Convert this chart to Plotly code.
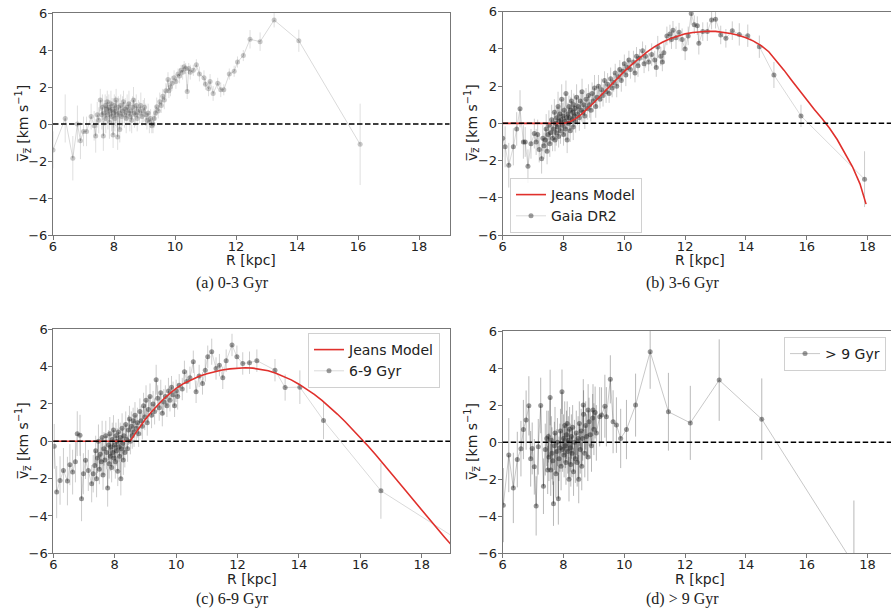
import plotly.graph_objects as go

# ---------------- (a) 0-3 Gyr ----------------
r_a = [6.0, 6.4, 6.65, 6.8, 6.9, 7.0, 7.1, 7.25, 7.35, 7.4, 7.45, 7.5, 7.55, 7.6, 7.62, 7.65,
       7.68, 7.71, 7.73, 7.76, 7.78, 7.8, 7.83, 7.85, 7.87, 7.9,
       7.92, 7.94, 7.97, 7.99, 8.01, 8.03, 8.05, 8.07, 8.1, 8.12,
       8.14, 8.17, 8.19, 8.22, 8.25, 8.28, 8.31, 8.34, 8.37, 8.4,
       8.43, 8.46, 8.49, 8.52, 8.55, 8.58, 8.61, 8.64, 8.67, 8.7,
       8.73, 8.76, 8.8, 8.84, 8.88, 8.92, 8.96, 9.0, 9.04, 9.08,
       9.12, 9.16, 9.2, 9.24, 9.28,
       9.32, 9.36, 9.4, 9.45, 9.5, 9.55, 9.6, 9.65, 9.7, 9.77,
       9.8, 9.85, 9.9, 9.97, 10.03, 10.1, 10.15, 10.2, 10.25, 10.3,
       10.35, 10.4, 10.45, 10.5, 10.6, 10.7, 10.8, 10.95, 11.0, 11.1,
       11.15, 11.25, 11.4, 11.5, 11.6, 11.78, 11.94, 12.05, 12.24, 12.46,
       12.79, 13.25, 14.06, 16.07]
v_a = [-1.4, 0.3, -1.85, 0.0, -0.9, -0.4, -0.4, 0.4, -0.1, -0.65, 0.5, 0.2, 1.3, 0.5, 0.9, -0.65,
       0.6, 1.0, 0.3, 0.8, 1.2, 0.5, 0.9, 0.1, 0.7, 1.1,
       0.4, 0.8, -0.6, 0.6, 1.0, 0.3, 0.7, 1.3, 0.5, -0.7,
       0.9, 0.6, -0.3, 1.0, 0.4, 0.7, 1.2, 0.5, 0.8, 0.3,
       0.9, 0.6, 1.1, 0.4, 0.7, 0.2, 0.9, 1.3, 0.6, 0.5,
       1.0, 0.3, 0.8, 0.6, 1.0, 0.4, 0.7, 0.9, 0.5, 0.2,
       0.6, 0.1, 0.3, -0.1, 0.0,
       0.3, 0.6, 0.93, 0.7, 1.2, 1.0, 1.5, 1.3, 1.8, 2.4,
       1.8, 2.0, 2.2, 2.5, 2.3, 2.7, 2.6, 2.9, 2.8, 3.1,
       3.0, 1.75, 3.0, 2.8, 2.9, 3.2, 2.7, 2.5, 2.15, 1.9,
       2.3, 1.65, 2.2, 1.85, 1.85, 2.7, 2.85, 3.35, 3.7, 4.58,
       4.45, 5.62, 4.5, -1.1]
e_a = [1.0, 1.3, 1.2, 1.0, 1.0, 0.8, 0.8, 0.7, 0.8, 0.9, 0.7, 0.7, 0.6, 0.8, 0.7, 0.8,
       0.7, 0.6, 0.8, 0.7, 0.6, 0.8, 0.7, 0.9, 0.6, 0.7,
       0.8, 0.6, 0.7, 0.8, 0.6, 0.7, 0.8, 0.6, 0.7, 0.7,
       0.6, 0.8, 0.7, 0.6, 0.7, 0.8, 0.6, 0.7, 0.6, 0.8,
       0.7, 0.6, 0.7, 0.8, 0.6, 0.7, 0.6, 0.7, 0.8, 0.6,
       0.6, 0.7, 0.5, 0.6, 0.7, 0.5, 0.6, 0.5, 0.6, 0.5,
       0.5, 0.6, 0.5, 0.4, 0.5,
       0.5, 0.4, 0.5, 0.4, 0.5, 0.4, 0.4, 0.5, 0.4, 0.4,
       0.4, 0.5, 0.4, 0.4, 0.4, 0.3, 0.4, 0.3, 0.4, 0.3,
       0.3, 0.4, 0.3, 0.4, 0.3, 0.3, 0.4, 0.4, 0.3, 0.4,
       0.4, 0.4, 0.3, 0.4, 0.3, 0.3, 0.3, 0.3, 0.3, 0.5,
       0.5, 0.4, 0.6, 2.2]

# ---------------- (b) 3-6 Gyr ----------------
r_b = [6.0, 6.08, 6.2, 6.35, 6.46, 6.57, 6.68, 6.74, 6.83, 6.93, 7.04, 7.1, 7.15, 7.2, 7.28, 7.32, 7.36,
       7.40, 7.43, 7.46, 7.49, 7.52, 7.55, 7.58, 7.61, 7.64, 7.67,
       7.70, 7.72, 7.74, 7.76, 7.78, 7.80, 7.82, 7.84, 7.86, 7.88,
       7.90, 7.92, 7.94, 7.96, 7.98, 8.00, 8.02, 8.04, 8.06, 8.08,
       8.10, 8.12, 8.14, 8.16, 8.18, 8.20, 8.22, 8.24, 8.26, 8.28,
       8.30, 8.32, 8.34, 8.36, 8.38, 8.40, 8.43, 8.46, 8.49, 8.52,
       8.55, 8.58, 8.61, 8.64, 8.67, 8.70, 8.74, 8.78, 8.82, 8.86,
       8.90, 8.94, 8.98, 9.02, 9.06, 9.10, 9.15, 9.20, 9.25, 9.30,
       9.35, 9.40, 9.45, 9.50, 9.55, 9.60,
       9.65, 9.7, 9.75, 9.8, 9.85, 9.9, 9.95, 10.0, 10.05, 10.1,
       10.15, 10.2, 10.3, 10.35, 10.4, 10.45, 10.5, 10.6, 10.65, 10.7,
       10.8, 10.9, 11.0, 11.05, 11.1, 11.2, 11.25, 11.3, 11.4, 11.5,
       11.55, 11.6, 11.7, 11.8, 11.9, 12.0, 12.1, 12.2, 12.3, 12.4,
       12.45, 12.58, 12.73, 12.87, 13.0, 13.17, 13.34, 13.55, 13.78, 14.06,
       14.44, 14.92, 15.81, 17.9]
v_b = [-0.8, -1.26, -2.25, -1.26, -0.3, 0.78, -1.0, -1.0, -2.3, -1.1, -0.55, -1.0, -0.6, -1.4, -1.9, -0.8, -1.2,
       -0.9, -0.3, -1.5, -0.6, -0.1, -1.1, -0.5, 0.2, -0.8, -0.3,
       0.6, -0.9, 0.0, -0.5, 0.3, -0.2, 0.9, -0.7, 0.1, 0.5,
       -0.4, 0.2, 1.3, -0.1, 0.4, -0.6, 0.7, 0.1, -0.3, 1.6,
       0.3, -0.9, 0.5, 0.0, 0.9, 0.3, -0.4, 0.7, 1.2, 0.2,
       0.6, -0.2, 1.0, 0.4, 0.8, 0.1, 1.4, 0.5, 0.9, 0.3,
       1.2, 0.7, 1.7, 0.6, 1.0, 0.4, 1.3, 0.8, 1.5, 1.0,
       0.7, 1.6, 1.2, 1.9, 0.9, 1.4, 2.0, 1.3, 1.8, 1.5,
       2.3, 1.7, 2.1, 1.6, 2.4, 1.9,
       2.2, 2.7, 2.0, 2.5, 2.9, 2.3, 2.8, 3.2, 2.6, 3.0,
       3.4, 2.9, 3.3, 2.7, 3.6, 3.1, 3.5, 3.9, 3.2, 3.6,
       3.3, 3.7, 3.4, 3.0, 4.1, 3.6, 3.3, 3.8, 4.7, 4.8,
       4.5, 5.0, 4.6, 4.9, 4.5, 4.0, 4.7, 5.9, 5.3, 5.25,
       4.3, 4.93, 4.93, 5.55, 5.6, 4.75, 4.57, 4.98, 4.78, 4.71,
       4.12, 2.6, 0.4, -3.0]
e_b = [1.0, 1.1, 1.2, 1.0, 0.9, 1.0, 0.9, 0.8, 0.9, 0.8, 0.8, 0.7, 0.8, 0.7, 0.8, 0.7, 0.7,
       0.7, 0.8, 0.7, 0.6, 0.8, 0.7, 0.6, 0.8, 0.7, 0.6,
       0.7, 0.6, 0.8, 0.7, 0.6, 0.7, 0.8, 0.6, 0.7, 0.6,
       0.7, 0.6, 0.8, 0.6, 0.7, 0.6, 0.7, 0.8, 0.6, 0.7,
       0.6, 0.7, 0.6, 0.8, 0.6, 0.7, 0.6, 0.7, 0.6, 0.7,
       0.6, 0.7, 0.6, 0.6, 0.7, 0.6, 0.7, 0.6, 0.6, 0.7,
       0.6, 0.6, 0.7, 0.6, 0.6, 0.7, 0.6, 0.6, 0.6, 0.7,
       0.6, 0.6, 0.6, 0.7, 0.6, 0.6, 0.6, 0.5, 0.6, 0.6,
       0.5, 0.6, 0.6, 0.5, 0.6, 0.5,
       0.5, 0.5, 0.6, 0.5, 0.5, 0.6, 0.5, 0.5, 0.6, 0.5,
       0.5, 0.5, 0.6, 0.5, 0.5, 0.6, 0.5, 0.5, 0.5, 0.6,
       0.5, 0.6, 0.5, 0.5, 0.6, 0.5, 0.5, 0.6, 0.5, 0.5,
       0.5, 0.5, 0.6, 0.5, 0.6, 0.6, 0.5, 0.6, 0.5, 0.5,
       0.6, 0.5, 0.5, 0.5, 0.5, 0.5, 0.5, 0.5, 0.6, 0.6,
       0.6, 0.7, 0.6, 1.5]
jr_b = [6.0, 7.0, 8.0, 8.2, 8.4, 8.6, 8.8, 9.0, 9.2, 9.4, 9.6, 9.8, 10.0, 10.25, 10.5, 10.75,
        11.0, 11.25, 11.5, 11.75, 12.0, 12.25, 12.5, 12.75, 13.0, 13.25, 13.5, 13.75, 14.0, 14.25,
        14.5, 14.75, 15.0, 15.25, 15.5, 15.75, 16.0, 16.25, 16.5, 16.75, 17.0, 17.25, 17.5, 17.75, 17.95]
jv_b = [0, 0, 0, 0.07, 0.25, 0.5, 0.8, 1.12, 1.46, 1.8, 2.14, 2.47, 2.79, 3.17, 3.52, 3.84,
        4.12, 4.36, 4.55, 4.7, 4.81, 4.88, 4.93, 4.95, 4.94, 4.9, 4.83, 4.73, 4.6, 4.42,
        4.18, 3.85, 3.38, 2.86, 2.32, 1.78, 1.25, 0.74, 0.26, -0.26, -0.87, -1.56, -2.32, -3.25, -4.34]

# ---------------- (c) 6-9 Gyr ----------------
r_c = [6.03, 6.11, 6.22, 6.33, 6.46, 6.54, 6.63, 6.72, 6.78, 6.87, 6.92, 6.98, 7.05, 7.14, 7.25, 7.3,
       7.35, 7.38, 7.41, 7.44, 7.47, 7.50, 7.53, 7.56, 7.59, 7.62, 7.65, 7.68, 7.71, 7.74, 7.77, 7.80,
       7.82, 7.84, 7.86, 7.88, 7.90, 7.92, 7.94, 7.96, 7.98, 8.00, 8.02, 8.04, 8.06,
       8.08, 8.10, 8.12, 8.14, 8.16, 8.18, 8.20, 8.22, 8.24, 8.26, 8.28, 8.30,
       8.33, 8.36, 8.39, 8.42, 8.45, 8.48, 8.51, 8.54, 8.57, 8.60, 8.63, 8.66,
       8.70, 8.74, 8.78, 8.82, 8.86, 8.90, 8.94, 8.98, 9.02, 9.06, 9.10,
       9.15, 9.20, 9.25, 9.30, 9.35, 9.40, 9.45, 9.50, 9.55, 9.60,
       9.65, 9.7, 9.75, 9.8, 9.85, 9.9, 9.95, 10.0, 10.05, 10.1,
       10.2, 10.27, 10.35, 10.45, 10.56, 10.65, 10.75, 10.86, 10.95, 11.03,
       11.16, 11.3, 11.41, 11.52, 11.63, 11.82, 11.98, 12.17, 12.39, 12.63,
       13.22, 13.55, 14.03, 14.8, 16.67, 19.3]
v_c = [-0.27, -2.72, -2.1, -1.56, -2.13, -1.25, -1.65, -1.1, 0.41, 0.32, -3.08, -1.74, -1.02, -1.56, -2.27, -1.74,
       -1.3, -0.5, -2.0, -0.9, 0.0, -1.5, -0.7, -1.1, 0.2, -1.8, -0.4, -1.0, 0.3, -0.6, -2.5, -0.2,
       -1.2, 0.4, -0.8, -0.3, -1.4, 0.1, -0.6, 0.6, -0.9, -0.2, -1.1, 0.3, -0.5,
       0.0, -1.6, 0.5, -0.3, -0.8, 0.2, -2.0, -0.4, 0.7, -0.1, -1.0, 0.3,
       -0.6, 0.9, 0.1, -0.4, 0.6, 1.2, 0.0, 0.8, 0.3, 1.1, 0.5, 1.4,
       0.7, 1.0, 0.4, 1.6, 1.1, 0.8, 1.9, 1.3, 2.2, 1.0, 1.7,
       2.4, 1.4, 2.0, 1.6, 3.3, 2.3, 1.8, 2.6, 1.5, 2.1,
       2.4, 1.9, 2.7, 2.2, 2.9, 2.5, 1.9, 2.7, 2.4, 3.0,
       2.8, 3.72, 3.2, 3.4, 4.26, 2.65, 3.5, 3.1, 3.8, 4.53,
       4.8, 3.9, 4.08, 3.4, 4.32, 5.16, 4.53, 4.17, 4.21, 4.32,
       3.81, 2.88, 2.9, 1.12, -2.65, -5.4]
e_c = [1.2, 1.4, 1.3, 1.2, 1.3, 1.1, 1.2, 1.1, 1.2, 1.1, 1.2, 1.1, 1.0, 1.1, 1.0, 1.0,
       0.9, 0.8, 1.0, 0.8, 0.9, 0.8, 0.9, 0.8, 0.9, 0.8, 0.9, 0.8, 0.8, 0.9, 1.0, 0.8,
       0.8, 0.9, 0.8, 0.7, 0.8, 0.9, 0.7, 0.8, 0.7, 0.8, 0.9, 0.7, 0.8,
       0.7, 0.8, 0.7, 0.8, 0.7, 0.8, 0.9, 0.7, 0.8, 0.7, 0.8, 0.7,
       0.8, 0.7, 0.8, 0.7, 0.8, 0.7, 0.7, 0.8, 0.7, 0.7, 0.8, 0.7,
       0.7, 0.8, 0.7, 0.7, 0.8, 0.7, 0.7, 0.7, 0.8, 0.7, 0.7,
       0.7, 0.7, 0.7, 0.7, 0.8, 0.7, 0.7, 0.7, 0.7, 0.7,
       0.6, 0.6, 0.7, 0.6, 0.6, 0.7, 0.6, 0.6, 0.7, 0.6,
       0.6, 0.6, 0.6, 0.6, 0.6, 0.6, 0.6, 0.6, 0.6, 0.6,
       0.7, 0.6, 0.6, 0.6, 0.6, 0.6, 0.6, 0.6, 0.6, 0.6,
       0.6, 0.7, 0.9, 1.0, 1.5, 2.0]
jr_c = [6.0, 7.0, 8.0, 8.5, 8.65, 8.8, 9.0, 9.2, 9.4, 9.6, 9.8, 10.0, 10.25, 10.5, 10.75, 11.0,
        11.25, 11.5, 11.75, 12.0, 12.25, 12.5, 12.75, 13.0, 13.25, 13.5, 13.75, 14.0, 14.25, 14.5,
        14.75, 15.0, 15.25, 15.5, 15.75, 16.0, 16.25, 16.5, 16.75, 17.0, 17.25, 17.5, 17.75, 18.0,
        18.25, 18.5, 18.75, 19.0]
jv_c = [0, 0, 0, 0, 0.37, 0.73, 1.18, 1.58, 1.95, 2.28, 2.57, 2.84, 3.1, 3.31, 3.48, 3.62,
        3.73, 3.82, 3.88, 3.92, 3.94, 3.92, 3.87, 3.78, 3.65, 3.49, 3.29, 3.06, 2.8, 2.51,
        2.19, 1.84, 1.46, 1.06, 0.64, 0.2, -0.25, -0.72, -1.2, -1.69, -2.19, -2.69, -3.19, -3.69,
        -4.18, -4.67, -5.15, -5.62]

# ---------------- (d) > 9 Gyr ----------------
r_d = [6.02, 6.2, 6.35, 6.48, 6.6, 6.68, 6.77, 6.86, 6.92, 6.97,
       7.04, 7.1, 7.17, 7.25, 7.34, 7.40, 7.45, 7.48, 7.5, 7.52,
       7.56, 7.58, 7.6, 7.62, 7.65, 7.67, 7.7, 7.72, 7.75, 7.78,
       7.8, 7.83, 7.85, 7.88, 7.9, 7.92, 7.95, 7.97, 8.0, 8.02,
       8.04, 8.06, 8.08, 8.1, 8.12, 8.14, 8.16, 8.18, 8.2, 8.22,
       8.24, 8.26, 8.28, 8.3, 8.33, 8.36, 8.39, 8.42, 8.45, 8.48,
       8.5, 8.52, 8.55, 8.58, 8.6, 8.63, 8.65, 8.66, 8.7, 8.73,
       8.76, 8.8, 8.81, 8.84, 8.88, 8.92, 8.96, 8.97, 9.0, 9.04,
       9.08, 9.19, 9.25, 9.36, 9.41, 9.54, 9.63, 9.74, 9.88, 10.07,
       10.37, 10.85, 11.45, 12.17, 13.12, 14.52, 17.55]
v_d = [-3.4, -0.7, -2.47, -0.94, -0.35, 0.68, 1.19, 1.96, -0.9, -0.34,
       -1.33, -3.44, -0.25, 1.98, -2.38, -0.4, 0.2, -1.5, 0.3, -0.8,
       2.41, -1.5, 0.1, -0.6, -1.0, -3.32, -0.2, 0.5, -1.7, -0.5,
       0.0, -3.05, -0.9, -0.3, 0.6, -1.3, 2.72, -0.4, 0.2, -0.7,
       0.9, -0.2, -1.1, 0.4, 1.0, -0.5, 0.1, -2.0, 0.7, -0.3,
       -1.2, 0.3, -0.6, 0.8, -1.6, 0.0, -0.9, 0.5, -1.1, 0.2,
       -2.0, 1.0, -0.4, 0.6, -1.3, 0.2, 2.0, 1.5, -0.6, 0.9,
       0.3, -0.8, 1.73, 1.1, 0.4, -0.2, 1.3, 1.73, 0.7, 1.6,
       0.5, 1.37, 1.46, 1.94, 1.37, 3.39, 1.1, 0.92, 0.2, 0.68,
       2.0, 4.88, 1.64, 1.04, 3.35, 1.24, -6.6]
e_d = [2.0, 2.0, 1.9, 1.5, 1.5, 1.6, 1.6, 1.6, 1.5, 1.4,
       1.5, 1.6, 1.5, 1.5, 1.5, 1.4, 1.5, 1.3, 1.4, 1.3,
       1.5, 1.4, 1.3, 1.4, 1.3, 1.2, 1.3, 1.4, 1.3, 1.2,
       1.3, 1.4, 1.2, 1.3, 1.2, 1.3, 1.2, 1.2, 1.3, 1.2,
       1.3, 1.2, 1.2, 1.3, 1.2, 1.2, 1.3, 1.2, 1.2, 1.3,
       1.2, 1.2, 1.3, 1.2, 1.3, 1.2, 1.3, 1.2, 1.3, 1.2,
       1.3, 1.2, 1.3, 1.2, 1.3, 1.2, 1.4, 1.3, 1.3, 1.3,
       1.2, 1.3, 1.4, 1.3, 1.3, 1.4, 1.3, 1.4, 1.4, 1.4,
       1.5, 1.6, 1.5, 1.7, 1.6, 1.3, 1.7, 1.5, 1.6, 1.6,
       1.7, 2.0, 2.1, 2.0, 2.2, 2.2, 3.45]

for arrs in [(r_a, v_a, e_a), (r_b, v_b, e_b), (r_c, v_c, e_c), (r_d, v_d, e_d)]:
    assert len(arrs[0]) == len(arrs[1]) == len(arrs[2]), [len(a) for a in arrs]
assert len(jr_b) == len(jv_b) and len(jr_c) == len(jv_c)

x_ticks = [6, 8, 10, 12, 14, 16, 18]
y_ticks = [-6, -4, -2, 0, 2, 4, 6]
captions = ["(a) 0-3 Gyr", "(b) 3-6 Gyr", "(c) 6-9 Gyr", "(d) > 9 Gyr"]
x_label = "R [kpc]"
y_label = "v\u0305<sub>z\u0305</sub> [km s<sup>\u22121</sup>]"

W, H = 891, 608
FONT = "DejaVu Sans"
JEANS_RED = "#e0302c"

fig = go.Figure()


def add_data(r, v, e, name, n, legend, mcol, ecol, lcol):
    fig.add_trace(go.Scatter(
        x=r, y=v, name=name, mode="lines+markers",
        error_y=dict(type="data", array=e, color=ecol, thickness=1, width=0),
        line=dict(color=lcol, width=1),
        marker=dict(size=5, color=mcol),
        xaxis="x" + n, yaxis="y" + n, legend=legend, legendrank=2,
    ))


def add_jeans(r, v, n, legend):
    fig.add_trace(go.Scatter(
        x=r, y=v, name="Jeans Model", mode="lines",
        line=dict(color=JEANS_RED, width=1.6),
        xaxis="x" + n, yaxis="y" + n, legend=legend, legendrank=1,
    ))


add_data(r_a, v_a, e_a, "0-3 Gyr", "", "legend", "rgba(60,60,60,0.28)", "rgba(0,0,0,0.13)", "rgba(0,0,0,0.15)")
add_data(r_b, v_b, e_b, "Gaia DR2", "2", "legend2", "rgba(20,20,20,0.42)", "rgba(0,0,0,0.2)", "rgba(0,0,0,0.15)")
add_jeans(jr_b, jv_b, "2", "legend2")
add_data(r_c, v_c, e_c, "6-9 Gyr", "3", "legend3", "rgba(20,20,20,0.42)", "rgba(0,0,0,0.2)", "rgba(0,0,0,0.15)")
add_jeans(jr_c, jv_c, "3", "legend3")
add_data(r_d, v_d, e_d, "> 9 Gyr", "4", "legend4", "rgba(30,30,30,0.45)", "rgba(0,0,0,0.28)", "rgba(0,0,0,0.22)")

# panel boxes in pixels: (left, right, top, bottom, xmax)
boxes = [(53, 449.5, 13, 235, 19.0), (502.7, 891, 11.7, 235, 18.77),
         (53.3, 450, 329.3, 553.3, 18.92), (502.7, 891, 331, 553.3, 18.77)]
# label centres in pixels: (x-label x, x-label y, y-label x)
label_pos = [(251, 260, 23), (700, 260, 472), (252, 578.5, 23), (700, 578.5, 472)]
cap_pos = [(233, 283), (683, 283), (233, 598.5), (682, 598.5)]

layout = dict(
    width=W, height=H, margin=dict(l=0, r=0, t=0, b=0),
    template="none", paper_bgcolor="white", plot_bgcolor="white",
    font=dict(family=FONT, color="#222", size=13), hovermode=False,
    shapes=[], annotations=[],
)

for i, (l, r, t, b, xmax) in enumerate(boxes):
    n = "" if i == 0 else str(i + 1)
    common = dict(showline=True, mirror=True, linecolor="#777", linewidth=1, ticks="outside",
                  ticklen=4, tickcolor="#777", tickfont=dict(size=13, color="#222"),
                  showgrid=False, zeroline=False, automargin=False)
    layout["xaxis" + n] = dict(common, domain=[l / W, r / W], range=[6, xmax], anchor="y" + n,
                               tickvals=x_ticks, ticklabelstandoff=-5)
    layout["yaxis" + n] = dict(common, domain=[1 - b / H, 1 - t / H], range=[-6, 6], anchor="x" + n,
                               tickvals=y_ticks, ticklabelstandoff=-2)
    layout["shapes"].append(dict(type="line", xref="x" + n + " domain", yref="y" + n,
                                 x0=0, x1=1, y0=0, y1=0,
                                 line=dict(color="black", width=1.5, dash="5.5px,2.5px")))
    lx, ly, yx = label_pos[i]
    layout["annotations"].append(dict(text=x_label, x=lx / W, y=1 - ly / H, xref="paper", yref="paper",
                                      showarrow=False, xanchor="center", yanchor="middle",
                                      font=dict(size=14, color="#222")))
    layout["annotations"].append(dict(text=y_label, x=yx / W, y=1 - (t + b) / 2 / H, xref="paper",
                                      yref="paper", showarrow=False, textangle=-90,
                                      xanchor="center", yanchor="middle",
                                      font=dict(size=14, color="#222")))
    cx, cy = cap_pos[i]
    layout["annotations"].append(dict(text=captions[i], x=cx / W, y=1 - cy / H, xref="paper", yref="paper",
                                      showarrow=False, xanchor="center", yanchor="middle",
                                      font=dict(family="Liberation Serif", size=16, color="#222")))

leg_common = dict(xanchor="left", yanchor="top", bgcolor="rgba(255,255,255,0.8)",
                  bordercolor="#d0d0d0", borderwidth=1, font=dict(size=14, color="#222"),
                  itemwidth=30)
layout["legend"] = dict(leg_common, x=339 / W, y=1 - 18 / H)
layout["legend2"] = dict(leg_common, x=510 / W, y=1 - 178 / H)
layout["legend3"] = dict(leg_common, x=308 / W, y=1 - 333 / H)
layout["legend4"] = dict(leg_common, x=784 / W, y=1 - 337 / H)

fig.update_layout(**layout)
# the page body has a default 8px margin; drop it so the figure fills the window exactly
fig.write_html("out.html", config={"displayModeBar": False},
               post_script="document.body.style.margin = '0';")
